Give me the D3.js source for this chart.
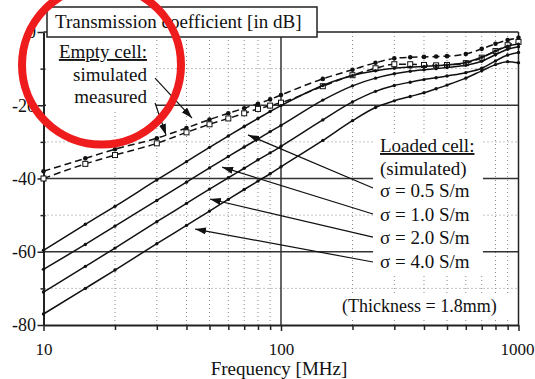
<!DOCTYPE html>
<html>
<head>
<meta charset="utf-8">
<script src="https://cdn.jsdelivr.net/npm/d3@7"></script>
<style>
  body { margin: 0; background: #fff; }
  svg text { font-family: "Liberation Serif", "Times New Roman", serif; fill: #111; }
</style>
</head>
<body>
<svg id="chart" width="535" height="379"></svg>
<script>
// frequencies in MHz (log axis)
const freqs = [10, 15, 20, 30, 40, 50, 60, 70, 80, 90, 100, 150, 200, 250, 300, 350, 400, 450, 500, 600, 700, 800, 900, 1000];

// empty cell (dashed)
const emptySim  = [-38, -34.5, -32, -29, -26.2, -23.9, -22.2, -20.8, -19.6, -18.4, -17.2, -12.8, -10.3, -8.4, -7.2, -6.9, -6.8, -6.7, -6.6, -6, -4.6, -3.2, -2.2, -1.6];
const emptyMeas = [-40, -36, -33.6, -30.4, -27.4, -25.2, -23.6, -22.2, -21, -20.1, -19.3, -14.8, -11.8, -9.9, -8.8, -8.8, -9, -9.1, -9, -8.5, -7, -5.2, -3.6, -2.7];

// loaded cell, simulated (solid)
const sigma05 = [-59.6, -52.5, -47.6, -40.4, -35.4, -31.5, -28.4, -25.8, -23.6, -21.7, -20.1, -14.6, -11.9, -10.6, -9.9, -9.6, -9.4, -9.2, -9, -8.3, -6.9, -5.2, -3.9, -3.3];
const sigma10 = [-64.8, -58, -53, -46, -41, -37.1, -34, -31.4, -29.2, -27.2, -25.5, -18.6, -14.7, -12.6, -11.4, -10.7, -10.3, -10, -9.7, -9.1, -8, -6.2, -4.7, -4];
const sigma20 = [-71, -64, -59, -51.8, -46.8, -42.9, -39.8, -37.2, -34.9, -33, -31.2, -24, -19.1, -16.2, -14.6, -13.7, -13, -12.5, -12, -11.1, -9.9, -7.9, -6.3, -5.6];
const sigma40 = [-77, -70, -65, -57.8, -52.8, -48.9, -45.7, -43, -40.7, -38.7, -36.8, -29.6, -24.2, -20.6, -18.8, -17.6, -16.6, -15.5, -14.5, -12.6, -10.6, -8.9, -8.1, -8.4];

const yMajor = [0, -20, -40, -60, -80];
const yMinor = [-10, -30, -50, -70];
const xMajor = [10, 100, 1000];
const xMinor = [20, 30, 40, 50, 60, 70, 80, 90, 200, 300, 400, 500, 600, 700, 800, 900];

const sigmaLabels = ["σ = 0.5 S/m", "σ = 1.0 S/m", "σ = 2.0 S/m", "σ = 4.0 S/m"];

const svg = d3.select('#chart');

const x = d3.scaleLog().domain([10, 1000]).range([43.5, 518.5]);
const y = d3.scaleLinear().domain([0, -80]).range([32, 325]);

// dotted minor grid
svg.append('g').selectAll('line')
  .data(xMinor).enter().append('line')
  .attr('x1', d => x(d)).attr('x2', d => x(d))
  .attr('y1', y(0)).attr('y2', y(-80))
  .attr('stroke', '#8a8a8a').attr('stroke-dasharray', '1,3');
svg.append('g').selectAll('line')
  .data(yMinor).enter().append('line')
  .attr('x1', x(10)).attr('x2', x(1000))
  .attr('y1', d => y(d)).attr('y2', d => y(d))
  .attr('stroke', '#8a8a8a').attr('stroke-dasharray', '1,3');

// solid major grid
svg.append('g').selectAll('line')
  .data([-20, -40, -60]).enter().append('line')
  .attr('x1', x(10)).attr('x2', x(1000))
  .attr('y1', d => y(d)).attr('y2', d => y(d))
  .attr('stroke', '#333').attr('stroke-width', 1.5);
svg.append('line')
  .attr('x1', x(100)).attr('x2', x(100))
  .attr('y1', y(0)).attr('y2', y(-80))
  .attr('stroke', '#333').attr('stroke-width', 1.5);

// white areas behind the text blocks
svg.append('rect').attr('x', 46).attr('y', 40).attr('width', 110).attr('height', 70).attr('fill', '#fff');
svg.append('rect').attr('x', 373).attr('y', 136).attr('width', 110).attr('height', 138).attr('fill', '#fff');
svg.append('rect').attr('x', 340).attr('y', 294).attr('width', 170).attr('height', 24).attr('fill', '#fff');

// frame
svg.append('line').attr('x1', x(10)).attr('x2', x(1000)).attr('y1', y(0)).attr('y2', y(0))
  .attr('stroke', '#222').attr('stroke-width', 1.5);
svg.append('line').attr('x1', x(1000)).attr('x2', x(1000)).attr('y1', y(0)).attr('y2', y(-80))
  .attr('stroke', '#222').attr('stroke-width', 1.5);

// axes
const yAxis = svg.append('g')
  .attr('transform', `translate(${x(10)},0)`)
  .call(d3.axisLeft(y).tickValues(yMajor).tickSize(6).tickPadding(1.5).tickSizeOuter(0).tickFormat(d => String(d)));
const yAxisMinor = svg.append('g')
  .attr('transform', `translate(${x(10) + 2},0)`)
  .call(d3.axisLeft(y).tickValues(yMinor).tickSize(5).tickSizeOuter(0).tickFormat(''));
const xAxis = svg.append('g')
  .attr('transform', `translate(0,${y(-80)})`)
  .call(d3.axisBottom(x).tickValues(xMajor).tickSize(6).tickPadding(12).tickSizeOuter(0).tickFormat(d => String(d)));
const xAxisMinor = svg.append('g')
  .attr('transform', `translate(0,${y(-80)})`)
  .call(d3.axisBottom(x).tickValues(xMinor).tickSize(5).tickSizeOuter(0).tickFormat(''));

[yAxis, yAxisMinor, xAxis, xAxisMinor].forEach(g => {
  g.attr('font-family', null).attr('font-size', null);
  g.selectAll('line').attr('stroke', '#222').attr('stroke-width', 1.5);
  g.select('.domain').attr('stroke', '#222').attr('stroke-width', 2);
});
yAxis.selectAll('text').style('font-size', '18px');
xAxis.selectAll('text').style('font-size', '17px');
// keep "1000" inside the page edge
xAxis.selectAll('text').filter(d => d === 1000).attr('x', -1.5);
yAxisMinor.select('.domain').remove();
xAxisMinor.select('.domain').remove();

// curves
const series = [
  { vals: emptySim,  dash: '7,4', marker: 'dot' },
  { vals: emptyMeas, dash: '7,4', marker: 'square' },
  { vals: sigma05, dash: null, marker: 'small' },
  { vals: sigma10, dash: null, marker: 'small' },
  { vals: sigma20, dash: null, marker: 'small' },
  { vals: sigma40, dash: null, marker: 'small' }
].map(s => ({ ...s, pts: freqs.map((f, i) => ({ f, v: s.vals[i] })) }));

const line = d3.line()
  .x(d => x(d.f))
  .y(d => y(d.v))
  .curve(d3.curveMonotoneX);

const curves = svg.append('g').selectAll('g')
  .data(series).enter().append('g');

curves.append('path')
  .attr('d', s => line(s.pts))
  .attr('fill', 'none')
  .attr('stroke', '#111')
  .attr('stroke-width', 1.5)
  .attr('stroke-dasharray', s => s.dash);

curves.each(function (s) {
  const g = d3.select(this);
  if (s.marker === 'square') {
    g.selectAll('rect').data(s.pts).enter().append('rect')
      .attr('x', d => x(d.f) - 2.5).attr('y', d => y(d.v) - 2.5)
      .attr('width', 5).attr('height', 5)
      .attr('fill', '#fff').attr('stroke', '#111').attr('stroke-width', 1);
  } else {
    g.selectAll('circle').data(s.pts).enter().append('circle')
      .attr('cx', d => x(d.f)).attr('cy', d => y(d.v))
      .attr('r', s.marker === 'dot' ? 2.3 : 1.7)
      .attr('fill', '#111');
  }
});

// arrowheads
svg.append('defs').append('marker')
  .attr('id', 'arrow')
  .attr('markerUnits', 'userSpaceOnUse')
  .attr('markerWidth', 12).attr('markerHeight', 8)
  .attr('refX', 11).attr('refY', 3.5)
  .attr('orient', 'auto')
  .append('path').attr('d', 'M0,0L11,3.5L0,7Z').attr('fill', '#111');

// annotation arrows: [tail, tip] in data units (MHz, dB)
const arrows = [
  [[29.5, -12.6], [42.2, -23.5]],
  [[29.5, -19.4], [32.8, -28.1]],
  [[244, -42.6], [72.6, -28.1]],
  [[244, -49.7], [56.5, -36.9]],
  [[244, -56], [50.2, -45.6]],
  [[244, -62.8], [43.5, -53.8]]
];
svg.append('g').selectAll('line')
  .data(arrows).enter().append('line')
  .attr('x1', d => x(d[0][0])).attr('y1', d => y(d[0][1]))
  .attr('x2', d => x(d[1][0])).attr('y2', d => y(d[1][1]))
  .attr('stroke', '#111').attr('stroke-width', 1.2)
  .attr('marker-end', 'url(#arrow)');

// text blocks
const txt = (s, xx, yy, anchor, size) => svg.append('text')
  .attr('x', xx).attr('y', yy)
  .attr('text-anchor', anchor || 'start')
  .style('font-size', (size || 19) + 'px')
  .text(s);

txt('Empty cell:', 147, 58, 'end').attr('text-decoration', 'underline');
txt('simulated', 147, 81, 'end');
txt('measured', 147, 103, 'end');

txt('Loaded cell:', 380, 152).attr('text-decoration', 'underline');
txt('(simulated)', 380, 175);
sigmaLabels.forEach((s, i) => txt(s, 380, 197 + i * 23.5));
txt('(Thickness = 1.8mm)', 342, 312, 'start', 18);

txt('Frequency [MHz]', 279, 375, 'middle');

// title box
svg.append('rect')
  .attr('x', 47).attr('y', 7).attr('width', 270).attr('height', 30)
  .attr('fill', '#fff').attr('stroke', '#222').attr('stroke-width', 1.5);
txt('Transmission coefficient [in dB]', 55, 28);

// red highlight circle
svg.append('circle')
  .attr('cx', 101.5).attr('cy', 65).attr('r', 79.5)
  .attr('fill', 'none').attr('stroke', '#ee1c1c').attr('stroke-width', 8);
</script>
</body>
</html>
